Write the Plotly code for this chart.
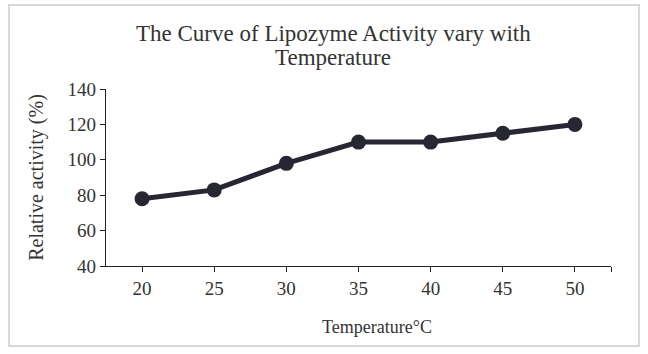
import plotly.graph_objects as go

temperature = [20, 25, 30, 35, 40, 45, 50]
activity = [78, 83, 98, 110, 110, 115, 120]
y_ticks = [40, 60, 80, 100, 120, 140]
title_lines = ["The Curve of Lipozyme Activity vary with", "Temperature"]

W, H = 648, 354
L, R, T, B = 106, 37, 89, 88
pw, ph = W - L - R, H - T - B

def px_x(x):
    return (x - L) / pw

def px_y(y):
    return (H - B - y) / ph

FONT = "Liberation Serif"
TXT = "#333333"
LINE = "#272733"

fig = go.Figure()
fig.add_trace(go.Scatter(
    x=temperature, y=activity, mode="lines+markers",
    line=dict(color=LINE, width=5),
    marker=dict(color=LINE, size=15),
    showlegend=False, cliponaxis=False,
))

annotations = []
for i, line in enumerate(title_lines):
    annotations.append(dict(text=line, x=px_x(333), y=px_y(33 + 25 * i), xref="paper", yref="paper",
                            xanchor="center", yanchor="middle", showarrow=False,
                            font=dict(family=FONT, size=23, color=TXT)))
annotations.append(dict(text="Temperature°C",
                        x=px_x(377), y=px_y(327), xref="paper", yref="paper",
                        xanchor="center", yanchor="middle", showarrow=False,
                        font=dict(family=FONT, size=18, color=TXT)))

fig.update_layout(
    width=W, height=H,
    margin=dict(l=L, r=R, t=T, b=B),
    paper_bgcolor="white", plot_bgcolor="white",
    font=dict(family=FONT, size=18, color=TXT),
    xaxis=dict(
        range=[17.5, 52.5],
        tickvals=temperature + [52.5],
        ticktext=[str(t) for t in temperature] + [""],
        ticks="outside", ticklen=5, tickcolor="#222", tickwidth=1.3,
        showline=True, linecolor="#222", linewidth=1.3,
        showgrid=False, zeroline=False,
        tickfont=dict(family=FONT, size=19, color=TXT),
    ),
    yaxis=dict(
        range=[40, 140],
        tickvals=y_ticks,
        ticks="outside", ticklen=5, tickcolor="#222", tickwidth=1.3,
        showline=True, linecolor="#222", linewidth=1.3,
        showgrid=False, zeroline=False,
        tickfont=dict(family=FONT, size=19, color=TXT),
        title=dict(text="Relative activity (%)", font=dict(family=FONT, size=20, color=TXT), standoff=18),
    ),
    annotations=annotations,
    shapes=[dict(type="rect", xref="paper", yref="paper",
                 x0=px_x(9), x1=px_x(639), y0=px_y(346), y1=px_y(5),
                 line=dict(color="#d9d9d9", width=2), layer="below")],
)

fig.write_html("out.html")
